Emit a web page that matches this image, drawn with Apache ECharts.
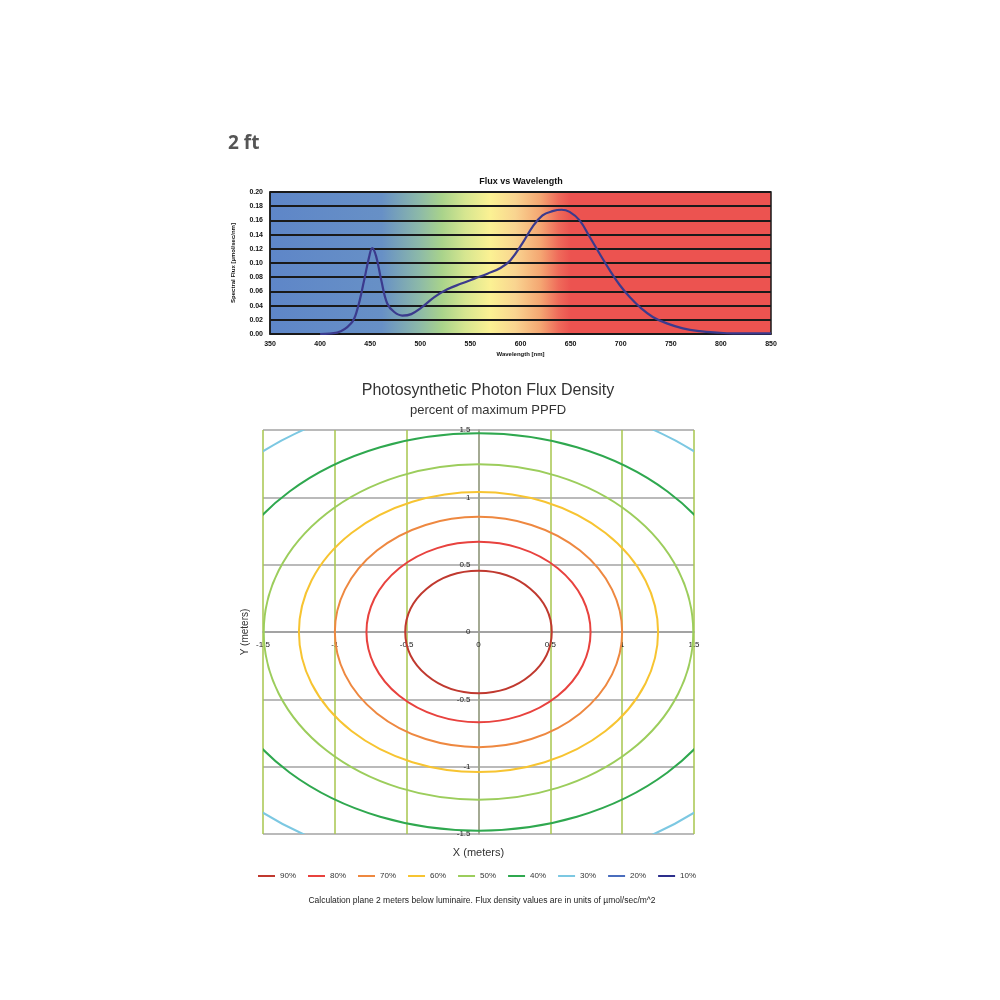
<!DOCTYPE html>
<html><head><meta charset="utf-8">
<script src="https://cdn.jsdelivr.net/npm/echarts@6/dist/echarts.min.js"></script>
<style>html,body{margin:0;padding:0;background:#fff;}#c{width:1000px;height:1000px;}</style>
</head><body><div id="c"></div>
<script>
// ---- Spectrum (Flux vs Wavelength) ----
const wavelength = [400,417,431,437,444,449,452,456,461,467,474,482,491,501,514,527,541,554,567,580,590,602,612,622,632,641,649,659,669,679,689,699,709,719,732,746,762,779,796,812,850];
const flux = [0.0,0.002,0.015,0.034,0.076,0.109,0.121,0.109,0.076,0.043,0.031,0.026,0.028,0.037,0.052,0.063,0.071,0.078,0.085,0.093,0.104,0.128,0.151,0.167,0.173,0.175,0.172,0.160,0.137,0.113,0.090,0.069,0.052,0.038,0.024,0.015,0.008,0.004,0.002,0.001,0.001];
const specXRange = [350, 850];
const specYRange = [0, 0.20];

// ---- PPFD contours (ellipse half-widths in meters) ----
const levels = ['90%','80%','70%','60%','50%','40%','30%','20%','10%'];
const centerX = 0, centerY = 0;
const radiusX = [0.51, 0.78, 1.0, 1.25, 1.495, 1.86, 2.3, null, null];
const radiusY = [0.455, 0.67, 0.855, 1.04, 1.245, 1.475, 1.77, null, null];
const planeRange = [-1.5, 1.5];

const levelColors = ['#c0392f','#e8423e','#ee8840','#f7c431','#9ccd5c','#2fa84f','#7cc8e2','#4a6dbd','#2d2f8c'];
const FONT = 'Liberation Sans, Arial, sans-serif';

const G1 = {left:263, top:430, width:431, height:404};

function renderEllipse(params, api) {
  const c = api.coord([api.value(0), api.value(1)]);
  const s = api.size([api.value(2), api.value(3)]);
  const rx = Math.abs(s[0]), ry = Math.abs(s[1]);
  const d = 'M ' + (c[0]-rx) + ' ' + c[1] +
            ' A ' + rx + ' ' + ry + ' 0 1 0 ' + (c[0]+rx) + ' ' + c[1] +
            ' A ' + rx + ' ' + ry + ' 0 1 0 ' + (c[0]-rx) + ' ' + c[1] + ' Z';
  return {type:'path', shape:{pathData:d}, style:{fill:'none', stroke:api.visual('color'), lineWidth:2}};
}

const frac = nm => (nm - specXRange[0]) / (specXRange[1] - specXRange[0]);
const bgGradient = new echarts.graphic.LinearGradient(0,0,1,0,[
  {offset:0, color:'#5e86c8'},
  {offset:frac(462), color:'#6790c6'},
  {offset:frac(500), color:'#8dbaa8'},
  {offset:frac(522), color:'#a9d38b'},
  {offset:frac(545), color:'#d6e690'},
  {offset:frac(570), color:'#fbf193'},
  {offset:frac(595), color:'#f9d490'},
  {offset:frac(620), color:'#f4a672'},
  {offset:frac(638), color:'#ef6a5a'},
  {offset:frac(650), color:'#ec5350'},
  {offset:1, color:'#ec5350'}
]);

const contourSeries = levels.map((name, i) => ({
  type:'custom', name:name, xAxisIndex:1, yAxisIndex:1, clip:true, silent:true,
  renderItem: renderEllipse,
  itemStyle:{color: levelColors[i]},
  data: radiusX[i] != null ? [[centerX, centerY, radiusX[i], radiusY[i]]] : []
}));

const chart = echarts.init(document.getElementById('c'), null, {renderer:'canvas'});
chart.setOption({
  backgroundColor:'#fff',
  animation:false,
  textStyle:{fontFamily:FONT},
  grid:[
    {left:270, top:192, width:501, height:142, outerBoundsMode:'none', containLabel:false, show:true, backgroundColor:bgGradient, borderColor:'#1a1a1a', borderWidth:1.5},
    {left:G1.left, top:G1.top, width:G1.width, height:G1.height, outerBoundsMode:'none', containLabel:false}
  ],
  xAxis:[
    {type:'value', gridIndex:0, min:specXRange[0], max:specXRange[1], interval:50,
     axisLine:{show:true, onZero:false, lineStyle:{color:'#1a1a1a', width:1.5}}, axisTick:{show:false},
     splitLine:{show:false},
     axisLabel:{fontSize:7, fontWeight:'bold', color:'#111', margin:7, showMinLabel:true, showMaxLabel:true},
     name:'Wavelength [nm]', nameLocation:'middle', nameGap:17,
     nameTextStyle:{fontSize:6, fontWeight:'bold', color:'#111'}},
    {type:'value', gridIndex:1, min:planeRange[0], max:planeRange[1], interval:0.5,
     position:'bottom', offset:-G1.height/2,
     axisLine:{show:true, onZero:false, lineStyle:{color:'#9c9c9c', width:1.5}}, axisTick:{show:false},
     splitLine:{show:true, lineStyle:{color:'#a7c64e', width:1.5}},
     axisLabel:{fontSize:8, color:'#222', margin:9, showMinLabel:true, showMaxLabel:true},
     name:'X (meters)', nameLocation:'middle', nameGap:215,
     nameTextStyle:{fontSize:11, color:'#333'}}
  ],
  yAxis:[
    {type:'value', gridIndex:0, min:specYRange[0], max:specYRange[1], interval:0.02,
     axisLine:{show:true, lineStyle:{color:'#1a1a1a', width:1.5}}, axisTick:{show:false},
     splitLine:{show:true, lineStyle:{color:'#1a1a1a', width:2}},
     axisLabel:{fontSize:7, fontWeight:'bold', color:'#111', margin:7, formatter:v=>v.toFixed(2), showMinLabel:true, showMaxLabel:true},
     name:'Spectral Flux [µmol/sec/nm]', nameLocation:'middle', nameGap:34, nameRotate:90,
     nameTextStyle:{fontSize:6, fontWeight:'bold', color:'#111'}},
    {type:'value', gridIndex:1, min:planeRange[0], max:planeRange[1], interval:0.5,
     position:'left', offset:-G1.width/2,
     axisLine:{show:true, onZero:false, lineStyle:{color:'#9c9c9c', width:1.5}}, axisTick:{show:false},
     splitLine:{show:true, lineStyle:{color:'#a3a3a3', width:1.5}},
     axisLabel:{fontSize:8, color:'#222', margin:8, showMinLabel:true, showMaxLabel:true},
     name:'Y (meters)', nameLocation:'middle', nameGap:228, nameRotate:90, nameMoveOverlap:false,
     nameTextStyle:{fontSize:10, color:'#333'}}
  ],
  legend:{
    data:levels, left:258, top:872, itemGap:12, itemWidth:17, itemHeight:2, icon:'rect', padding:0,
    textStyle:{fontSize:8, color:'#333', fontFamily:FONT}
  },
  graphic:[
    {type:'text', left:228, top:134, style:{text:'2 ft', font:'bold 19px "Open Sans", sans-serif', fill:'#555'}},
    {type:'text', x:521, y:182, style:{text:'Flux vs Wavelength', font:'bold 9px ' + FONT, fill:'#111', textAlign:'center', textVerticalAlign:'middle'}},
    {type:'text', x:488, y:391, style:{text:'Photosynthetic Photon Flux Density', font:'16px ' + FONT, fill:'#333', textAlign:'center', textVerticalAlign:'middle'}},
    {type:'text', x:488, y:410, style:{text:'percent of maximum PPFD', font:'13px ' + FONT, fill:'#333', textAlign:'center', textVerticalAlign:'middle'}},
    {type:'text', x:482, y:901, style:{text:'Calculation plane 2 meters below luminaire. Flux density values are in units of µmol/sec/m^2', font:'8.5px ' + FONT, fill:'#222', textAlign:'center', textVerticalAlign:'middle'}}
  ],
  series:[
    {type:'line', name:'Flux', xAxisIndex:0, yAxisIndex:0, smooth:0.4, showSymbol:false, silent:true,
     lineStyle:{color:'#3b3a8d', width:2.2}, data: wavelength.map((w,i)=>[w, flux[i]])}
  ].concat(contourSeries)
});
</script>
</body></html>
